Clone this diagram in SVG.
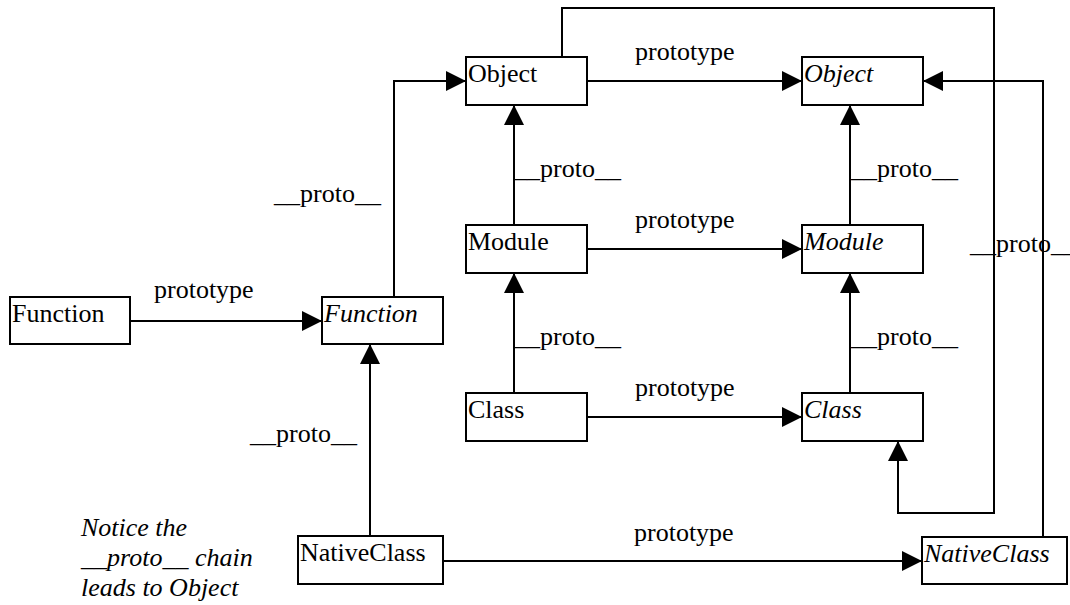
<svg xmlns="http://www.w3.org/2000/svg" width="1070" height="605" viewBox="0 0 1070 605">
  <style>
    .box { fill: #ffffff; stroke: #000000; stroke-width: 2; }
    .lbl { font-family: "Liberation Serif", Tinos, "Times New Roman", "DejaVu Serif", serif; font-size: 26px; fill: #000000; }
    .it { font-style: italic; }
    .edge { fill: none; stroke: #000000; stroke-width: 2; marker-end: url(#arrow); }
  </style>
  <defs>
    <marker id="arrow" markerUnits="userSpaceOnUse" markerWidth="20" markerHeight="20" refX="20" refY="10" orient="auto">
      <path d="M0,0 L20,10 L0,20 Z" fill="#000000"/>
    </marker>
  </defs>
  <rect width="1070" height="605" fill="#ffffff"/>

  <!-- connectors -->
  <g id="connectors">
    <path class="edge" d="M130,321 H322"/>
    <path class="edge" d="M394,297 V81 H466"/>
    <path class="edge" d="M587,81 H802"/>
    <path class="edge" d="M514,225 V105"/>
    <path class="edge" d="M587,249 H802"/>
    <path class="edge" d="M850,225 V105"/>
    <path class="edge" d="M514,393 V273"/>
    <path class="edge" d="M850,393 V273"/>
    <path class="edge" d="M587,417 H802"/>
    <path class="edge" d="M370,536 V344"/>
    <path class="edge" d="M443,561 H922"/>
    <path class="edge" d="M562,57 V8 H994 V513 H898 V441"/>
    <path class="edge" d="M1043,537 V81 H923"/>

    <text class="lbl" x="154" y="298">prototype</text>
    <text class="lbl" x="274" y="202">__proto__</text>
    <text class="lbl" x="635" y="60">prototype</text>
    <text class="lbl" x="514" y="177">__proto__</text>
    <text class="lbl" x="635" y="228">prototype</text>
    <text class="lbl" x="851" y="177">__proto__</text>
    <text class="lbl" x="514" y="345">__proto__</text>
    <text class="lbl" x="851" y="345">__proto__</text>
    <text class="lbl" x="635" y="396">prototype</text>
    <text class="lbl" x="250" y="442">__proto__</text>
    <text class="lbl" x="634" y="541">prototype</text>
    <text class="lbl" x="970" y="252">__proto__</text>
  </g>

  <!-- nodes -->
  <g id="node-function">
    <rect class="box" x="10" y="297" width="120" height="47"/>
    <text class="lbl" x="12" y="322">Function</text>
  </g>
  <g id="node-function-proto">
    <rect class="box" x="322" y="297" width="121" height="47"/>
    <text class="lbl it" x="324" y="322">Function</text>
  </g>
  <g id="node-object">
    <rect class="box" x="466" y="57" width="121" height="48"/>
    <text class="lbl" x="468" y="82">Object</text>
  </g>
  <g id="node-object-proto">
    <rect class="box" x="802" y="57" width="121" height="48"/>
    <text class="lbl it" x="804" y="82">Object</text>
  </g>
  <g id="node-module">
    <rect class="box" x="466" y="225" width="121" height="48"/>
    <text class="lbl" x="468" y="250">Module</text>
  </g>
  <g id="node-module-proto">
    <rect class="box" x="802" y="225" width="121" height="48"/>
    <text class="lbl it" x="804" y="250">Module</text>
  </g>
  <g id="node-class">
    <rect class="box" x="466" y="393" width="121" height="48"/>
    <text class="lbl" x="468" y="418">Class</text>
  </g>
  <g id="node-class-proto">
    <rect class="box" x="802" y="393" width="121" height="48"/>
    <text class="lbl it" x="804" y="418">Class</text>
  </g>
  <g id="node-nativeclass">
    <rect class="box" x="298" y="536" width="145" height="48"/>
    <text class="lbl" x="300" y="561">NativeClass</text>
  </g>
  <g id="node-nativeclass-proto">
    <rect class="box" x="922" y="537" width="145" height="47"/>
    <text class="lbl it" x="924" y="562">NativeClass</text>
  </g>

  <!-- note -->
  <g id="note">
    <text class="lbl it" x="81" y="536">Notice the</text>
    <text class="lbl it" x="81" y="566">__proto__ chain</text>
    <text class="lbl it" x="81" y="596">leads to Object</text>
  </g>
</svg>
